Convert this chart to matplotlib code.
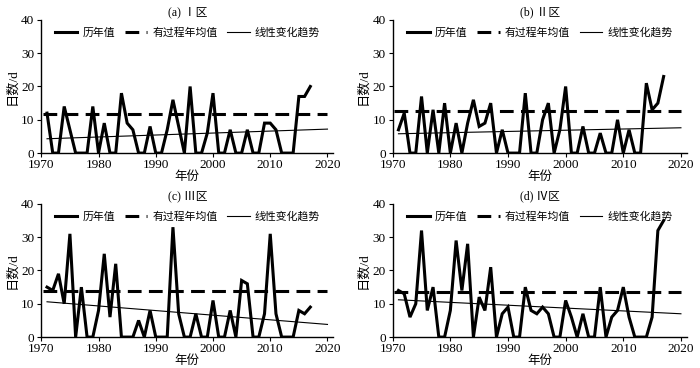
import numpy as np
import matplotlib
matplotlib.use("Agg")
import matplotlib.pyplot as plt

plt.rcParams['font.family'] = ['Liberation Serif', 'Noto Sans CJK SC', 'DejaVu Sans']
plt.rcParams['axes.unicode_minus'] = False

years = np.arange(1971, 2018)

# annual values (days)
vals_a = [12, 0, 0, 14, 7, 0, 0, 0, 14, 0, 9, 0, 0, 18, 9, 7, 0, 0, 8, 0,
          0, 7, 16, 8, 0, 20, 0, 0, 6, 18, 0, 0, 7, 0, 0, 7, 0, 0, 9, 9,
          7, 0, 0, 0, 17, 17, 20]
vals_b = [7, 12, 0, 0, 17, 0, 13, 0, 15, 0, 9, 0, 9, 16, 8, 9, 15, 0, 7, 0,
          0, 0, 18, 0, 0, 10, 15, 0, 7, 20, 0, 0, 8, 0, 0, 6, 0, 0, 10, 0,
          7, 0, 0, 21, 13, 15, 23]
vals_c = [15, 14, 19, 10, 31, 0, 15, 0, 0, 8, 25, 6, 22, 0, 0, 0, 5, 0, 8, 0,
          0, 0, 33, 7, 0, 0, 7, 0, 0, 11, 0, 0, 8, 0, 17, 16, 0, 0, 7, 31,
          7, 0, 0, 0, 8, 7, 9]
vals_d = [14, 13, 6, 10, 32, 8, 15, 0, 0, 8, 29, 14, 28, 0, 12, 8, 21, 0, 7, 9,
          0, 0, 15, 8, 7, 9, 7, 0, 0, 11, 6, 0, 7, 0, 0, 15, 0, 6, 8, 15,
          6, 0, 0, 0, 6, 32, 35]

# mean of years with process, and linear trend endpoints
means = [11.6, 12.6, 13.9, 13.4]
mean_x = [1970.3, 2020]
trend_x = [1971, 2020]
trend_a = [4.3, 7.2]
trend_b = [5.8, 7.6]
trend_c = [10.6, 3.8]
trend_d = [11.2, 7.0]

titles = ["(a) Ⅰ区", "(b) Ⅱ区", "(c) Ⅲ区", "(d) Ⅳ区"]
series = [vals_a, vals_b, vals_c, vals_d]
trends = [trend_a, trend_b, trend_c, trend_d]

fig = plt.figure(figsize=(7, 3.68), dpi=100)
boxes = [
    [0.059, 0.584, 0.417, 0.362],
    [0.561, 0.584, 0.420, 0.362],
    [0.059, 0.084, 0.417, 0.362],
    [0.561, 0.084, 0.420, 0.362],
]

for i in range(4):
    ax = fig.add_axes(boxes[i])
    ax.plot(years, series[i], color="black", lw=2.2, label="历年值",
            solid_joinstyle="miter")
    ax.plot(mean_x, [means[i], means[i]], color="black", lw=2.2,
            dashes=(4.5, 2.4), label="有过程年均值")
    ax.plot(trend_x, trends[i], color="black", lw=0.8, label="线性变化趋势")

    ax.set_xlim(1970, 2021)
    ax.set_ylim(0, 40)
    ax.set_xticks([1970, 1980, 1990, 2000, 2010, 2020])
    ax.set_yticks([0, 10, 20, 30, 40])
    ax.tick_params(labelsize=9.5, length=3, width=0.8)
    ax.tick_params(axis="x", pad=1.5)
    ax.tick_params(axis="y", pad=2)
    for s in ["top", "right"]:
        ax.spines[s].set_visible(False)
    for s in ["left", "bottom"]:
        ax.spines[s].set_linewidth(1.0)

    ax.set_title(titles[i], fontsize=8.5, pad=3)
    ax.set_ylabel("日数/d", fontsize=9.5, labelpad=2)
    ax.set_xlabel("年份", fontsize=9, labelpad=0)
    ax.legend(loc="upper center", bbox_to_anchor=(0.5, 0.99), ncol=3,
              frameon=False, fontsize=7.8, handlelength=2.1,
              handletextpad=0.45, columnspacing=0.9, borderaxespad=0.2)

fig.savefig("out.png", dpi=100)
